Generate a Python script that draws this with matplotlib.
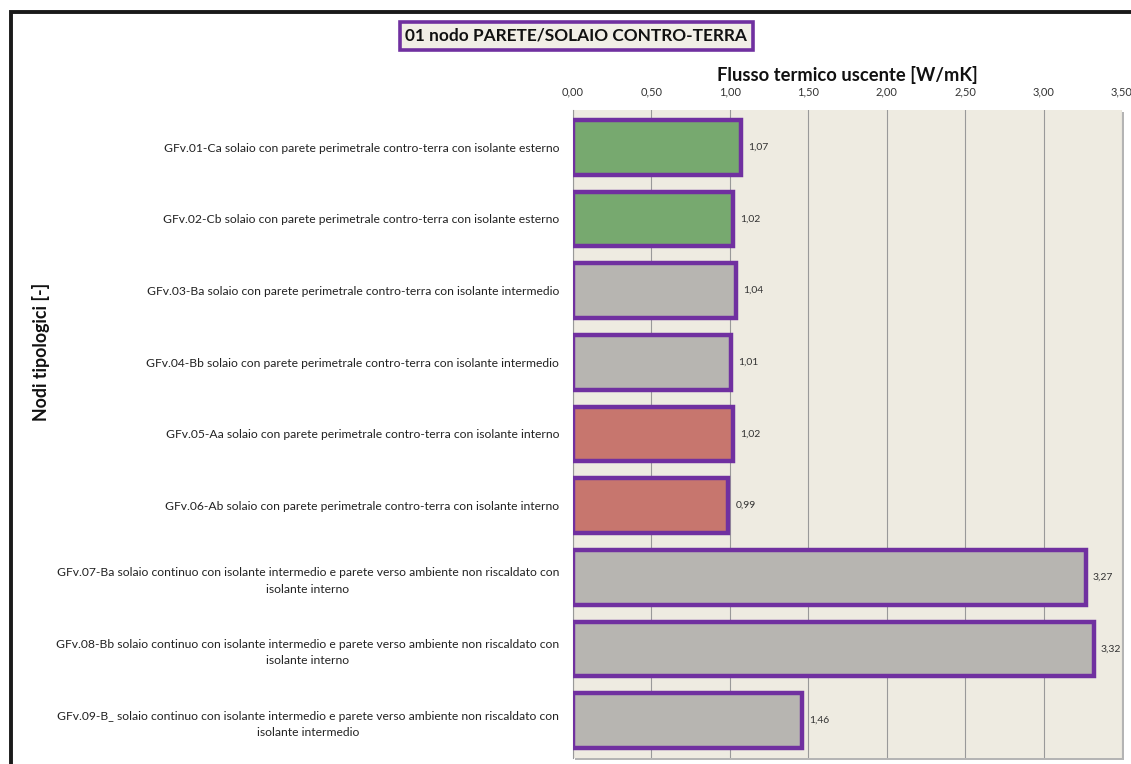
import matplotlib.pyplot as plt
from matplotlib.patches import Rectangle
from matplotlib.ticker import FuncFormatter, MultipleLocator

plt.rcParams['font.family'] = ['Lato', 'DejaVu Sans']

nodes = [
    'GFv.01-Ca solaio con parete perimetrale contro-terra con isolante esterno',
    'GFv.02-Cb solaio con parete perimetrale contro-terra con isolante esterno',
    'GFv.03-Ba solaio con parete perimetrale contro-terra con isolante intermedio',
    'GFv.04-Bb solaio con parete perimetrale contro-terra con isolante intermedio',
    'GFv.05-Aa solaio con parete perimetrale contro-terra con isolante interno',
    'GFv.06-Ab solaio con parete perimetrale contro-terra con isolante interno',
    'GFv.07-Ba solaio continuo con isolante intermedio e parete verso ambiente non riscaldato con\nisolante interno',
    'GFv.08-Bb solaio continuo con isolante intermedio e parete verso ambiente non riscaldato con\nisolante interno',
    'GFv.09-B_ solaio continuo con isolante intermedio e parete verso ambiente non riscaldato con\nisolante intermedio',
]
flux = [1.07, 1.02, 1.04, 1.01, 1.02, 0.99, 3.27, 3.32, 1.46]
insulation = ['esterno', 'esterno', 'intermedio', 'intermedio', 'interno', 'interno',
              'intermedio', 'intermedio', 'intermedio']

fill = {'esterno': '#77a96f', 'intermedio': '#b7b5b1', 'interno': '#c7766e'}
edge = '#7030a0'

fig = plt.figure(figsize=(11.31, 7.64), dpi=100)

# outer black frame of the chart object
fig.patches.append(Rectangle((0.0097, -0.1), 1.2, 1.084, transform=fig.transFigure,
                             fill=False, edgecolor='#1a1a1a', linewidth=2.8, zorder=-1))

ax_rect = [0.5066, 0.008, 0.4854, 0.848]
ax = fig.add_axes(ax_rect)
ax.set_facecolor('#eeebe1')

# drop shadow of the plot area, kept behind the axes
fig.patches.append(Rectangle((ax_rect[0] + 0.002, ax_rect[1] - 0.003), ax_rect[2], ax_rect[3],
                             transform=fig.transFigure, facecolor='#b4b4b4',
                             edgecolor='none', zorder=-2))

ypos = list(range(len(nodes)))
colors = [fill[k] for k in insulation]
ax.barh(ypos, flux, height=0.76, color=colors, edgecolor=edge, linewidth=3.2, zorder=3)

for y, v in zip(ypos, flux):
    ax.text(v + 0.045, y, f'{v:.2f}'.replace('.', ','), va='center', ha='left',
            fontsize=7.5, color='#333333', zorder=4)

ax.set_xlim(0, 3.5)
ax.set_ylim(8.52, -0.52)
ax.xaxis.set_major_locator(MultipleLocator(0.5))
ax.xaxis.set_major_formatter(FuncFormatter(lambda v, p: f'{v:.2f}'.replace('.', ',')))
ax.xaxis.tick_top()
ax.tick_params(axis='x', length=0, pad=9, labelsize=8, labelcolor='#333333')
ax.grid(axis='x', color='#999999', linewidth=0.8, zorder=1)

ax.set_yticks(ypos)
ax.set_yticklabels(nodes, fontsize=8.7, color='#222222', multialignment='center',
                   linespacing=1.6)
ax.tick_params(axis='y', length=0, pad=10)

for s in ax.spines.values():
    s.set_visible(False)
ax.spines['left'].set_visible(True)
ax.spines['left'].set_color('#999999')

fig.text(0.749, 0.902, 'Flusso termico uscente [W/mK]', ha='center', va='center',
         fontsize=13.2, fontweight='bold', color='#111111')
fig.text(0.036, 0.54, 'Nodi tipologici [-]', ha='center', va='center', rotation=90,
         fontsize=12.8, fontweight='bold', color='#111111')

# boxed title
fig.text(0.5094, 0.953, '01 nodo PARETE/SOLAIO CONTRO-TERRA', ha='center', va='center',
         fontsize=12.4, fontweight='bold', color='#111111',
         bbox=dict(boxstyle='square,pad=0.33', facecolor='#f1eee6', edgecolor=edge, linewidth=2.6))

fig.savefig('out.png', dpi=100)
